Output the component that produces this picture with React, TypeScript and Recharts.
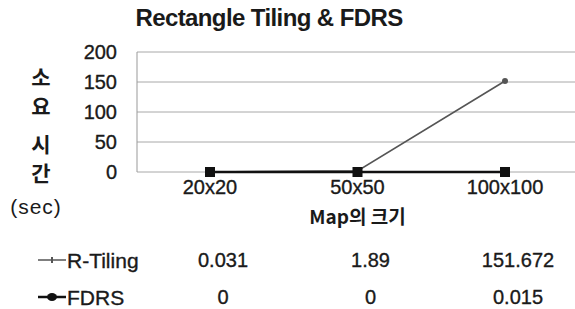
import * as React from "react"
import { LineChart, Line, CartesianGrid, XAxis, YAxis } from "recharts"

const categories = ["20x20", "50x50", "100x100"]
const rTiling = [0.031, 1.89, 151.672]
const fdrs = [0, 0, 0.015]
const yTicks = [0, 50, 100, 150, 200]
const seriesNames = ["R-Tiling", "FDRS"]
const yLabelChars = ["소", "요", "시", "간"]

const data = categories.map((name, i) => ({ name, rTiling: rTiling[i], fdrs: fdrs[i] }))

const font = "'Liberation Sans', Arial, sans-serif"
const krFont = "'Noto Sans CJK KR', sans-serif"
const rColor = "#555"
const fColor = "#111"
const textColor = "#1a1a1a"
const catPad = { left: 73, right: 73 }

// thin stroke makes the text look a bit heavier, like the scanned original
const heavy = { stroke: textColor, strokeWidth: 0.35 }

function CategoryTick(props: any) {
    const { x, y, payload } = props
    return (
        <text x={x} y={y + 15} textAnchor="middle" dominantBaseline="central"
            fontFamily={font} fontSize={20} fill={textColor} {...heavy}>
            {payload.value}
        </text>
    )
}

function makeRowTick(values: number[], label: string, dy: number, marker: "small" | "square") {
    return function RowTick(props: any) {
        const { x, y, index } = props
        const cy = y + dy
        return (
            <g>
                <text x={x + 13} y={cy} textAnchor="middle" dominantBaseline="central"
                    fontFamily={font} fontSize={20} fill={textColor} {...heavy}>
                    {String(values[index])}
                </text>
                {index === 0 && (
                    <g>
                        {marker === "small" ? (
                            <g>
                                <line x1={38} x2={66} y1={cy} y2={cy} stroke={rColor} strokeWidth={1.5} />
                                <line x1={52} x2={52} y1={cy - 3} y2={cy + 3} stroke={rColor} strokeWidth={2} />
                            </g>
                        ) : (
                            <g>
                                <line x1={38} x2={66} y1={cy} y2={cy} stroke={fColor} strokeWidth={2.5} />
                                <ellipse cx={52} cy={cy} rx={5} ry={4} fill={fColor} />
                            </g>
                        )}
                        <text x={67} y={cy} dominantBaseline="central" fontFamily={font}
                            fontSize={21} fill={textColor} {...heavy}>
                            {label}
                        </text>
                    </g>
                )}
            </g>
        )
    }
}

function YTick(props: any) {
    const { x, y, payload } = props
    return (
        <text x={x} y={y} textAnchor="end" dominantBaseline="central"
            fontFamily={font} fontSize={20} fill={textColor} {...heavy}>
            {payload.value}
        </text>
    )
}

function SquareDot(props: any) {
    const { cx, cy, index } = props
    return <rect key={"f" + index} x={cx - 5} y={cy - 5} width={10} height={10} fill={fColor} />
}

function SmallDot(props: any) {
    const { cx, cy, index } = props
    return <circle key={"r" + index} cx={cx} cy={cy} r={3} fill={rColor} />
}

export default function App() {
    return (
        <div style={{ position: "absolute", left: 0, top: 0, width: 575, height: 309, overflow: "hidden", background: "#fff" }}>
            <div style={{
                position: "absolute", left: 0, top: 4, width: 538, textAlign: "center",
                fontFamily: font, fontWeight: "bold", fontSize: 24, color: textColor, letterSpacing: -0.6,
            }}>
                Rectangle Tiling &amp; FDRS
            </div>
            {yLabelChars.map((c, i) => (
                <div key={c} style={{
                    position: "absolute", left: 29, top: [63, 92, 130, 159][i], width: 24, textAlign: "center",
                    fontFamily: krFont, fontWeight: "bold", fontSize: 21, lineHeight: "26px", color: textColor,
                }}>{c}</div>
            ))}
            <div style={{
                position: "absolute", left: 8, top: 194, width: 56, textAlign: "center",
                fontFamily: font, fontSize: 21, lineHeight: "26px", color: textColor, letterSpacing: 1,
            }}>(sec)</div>
            <LineChart width={585} height={309} data={data}
                margin={{ top: 52, right: 7, left: 0, bottom: 0 }}>
                <CartesianGrid xAxisId="main" vertical={false} stroke="#a8a8a8" />
                <XAxis xAxisId="main" dataKey="name" height={55} axisLine={false} tickLine={false}
                    padding={catPad} tickSize={0} tickMargin={0} tick={<CategoryTick />}
                    label={{ value: "Map의 크기", position: "insideBottom", offset: 3, fontFamily: krFont, fontWeight: "bold", fontSize: 19, fill: textColor }} />
                <XAxis xAxisId="row1" dataKey="name" height={45} axisLine={false} tickLine={false}
                    padding={catPad} tickSize={0} tickMargin={0} tick={makeRowTick(rTiling, seriesNames[0], 33, "small")} />
                <XAxis xAxisId="row2" dataKey="name" height={37} axisLine={false} tickLine={false}
                    padding={catPad} tickSize={0} tickMargin={0} tick={makeRowTick(fdrs, seriesNames[1], 25, "square")} />
                <YAxis width={137} domain={[0, 200]} ticks={yTicks} tickLine={false} tickSize={0}
                    tickMargin={20} axisLine={{ stroke: "#999" }} tick={<YTick />} />
                <Line xAxisId="main" dataKey="rTiling" name={seriesNames[0]} stroke={rColor} strokeWidth={1.6}
                    dot={SmallDot} isAnimationActive={false} />
                <Line xAxisId="main" dataKey="fdrs" name={seriesNames[1]} stroke={fColor} strokeWidth={2.5}
                    dot={SquareDot} isAnimationActive={false} />
            </LineChart>
        </div>
    )
}
